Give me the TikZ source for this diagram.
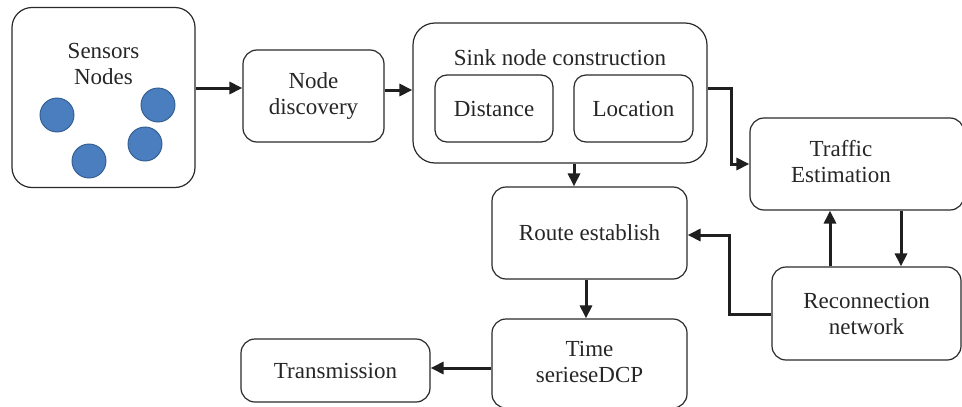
\documentclass[tikz,border=0pt]{standalone}
\usepackage{fontspec}
\setmainfont{Liberation Serif}
\usetikzlibrary{arrows.meta}
\definecolor{dotfill}{HTML}{4A7EBF}
\definecolor{dotline}{HTML}{2E5A8C}
\definecolor{boxline}{HTML}{2A2A2A}
\begin{document}
\begin{tikzpicture}[x=1pt,y=-1pt,
  box/.style={draw=boxline,line width=1.2pt,rounded corners=#1,rectangle,inner sep=0pt},
  box/.default=14pt,
  txt/.style={font=\fontsize{23}{26}\selectfont,align=center,text=black!85,inner sep=0pt},
  arr/.style={line width=3pt,draw=black!88,-{Triangle[length=13pt,width=12pt]}},
  dot/.style={circle,fill=dotfill,draw=dotline,line width=0.9pt,minimum size=34pt,inner sep=0pt}]
\useasboundingbox (0,0) rectangle (962,407);
% boxes
\node[box=20pt,minimum width=183pt,minimum height=180pt] (sens) at (103.5,97.5) {};
\node[txt] (senstxt) at (103.5,64) {Sensors\\Nodes};
\node[dot] (d1) at (57,115) {};
\node[dot] (d2) at (158,105) {};
\node[dot] (d3) at (145,144) {};
\node[dot] (d4) at (89,161) {};
\node[box,minimum width=141pt,minimum height=92pt,txt] (nd) at (313.5,96) {Node\\discovery};
\node[box=22pt,minimum width=294pt,minimum height=140pt] (sink) at (560,93) {};
\node[txt] (sinktxt) at (560,58) {Sink node construction};
\node[box=12pt,minimum width=118pt,minimum height=67pt,txt] (dist) at (494,108.5) {Distance};
\node[box=12pt,minimum width=119pt,minimum height=67pt,txt] (loc) at (633.5,108.5) {Location};
\node[box,minimum width=214pt,minimum height=92pt] (traf) at (857,164) {};
\node[txt] (traftxt) at (841,162) {Traffic\\Estimation};
\node[box,minimum width=195pt,minimum height=92pt,txt] (route) at (589.5,233) {Route establish};
\node[box,minimum width=189pt,minimum height=93pt,txt] (recon) at (866.5,313.5) {Reconnection\\network};
\node[box,minimum width=195pt,minimum height=89pt] (time) at (589.5,363.5) {};
\node[txt] (timetxt) at (589.5,362) {Time\\serieseDCP};
\node[box,minimum width=189pt,minimum height=63pt,txt] (trans) at (335.5,370.5) {Transmission};
% connectors
\draw[arr] (sens.east |- 0,88) -- (nd.west |- 0,88);
\draw[arr] (nd.east |- 0,90) -- (sink.west |- 0,90);
\coordinate (c1) at (731,88);
\coordinate (c2) at (731,164);
\draw[arr] (sink.east |- c1) -- (c1) -- (c2) -- (traf.west);
\draw[arr] (sink.south -| 574,0) -- (route.north -| 574,0);
\draw[arr] (route.south -| 586,0) -- (time.north -| 586,0);
\draw[arr] (recon.north -| 830,0) -- (traf.south -| 830,0);
\draw[arr] (traf.south -| 901,0) -- (recon.north -| 901,0);
\coordinate (c3) at (729,314);
\coordinate (c4) at (729,235);
\draw[arr] (recon.west |- c3) -- (c3) -- (c4) -- (route.east |- c4);
\draw[arr] (time.west |- 0,368) -- (trans.east |- 0,368);
\end{tikzpicture}
\end{document}
